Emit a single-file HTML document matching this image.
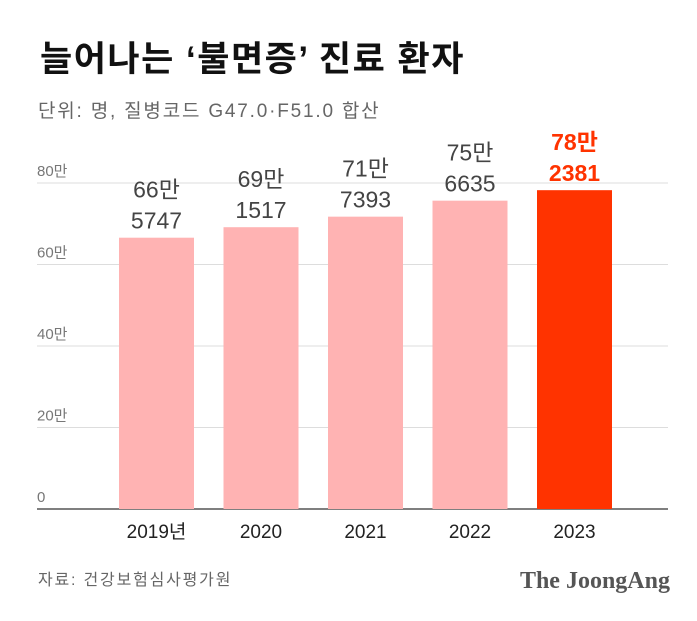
<!DOCTYPE html>
<html><head><meta charset="utf-8"><style>
body{margin:0;background:#fff;width:697px;height:616px;overflow:hidden;font-family:"Liberation Sans","Noto Sans CJK KR",sans-serif}
</style></head><body>
<svg width="697" height="616" xmlns="http://www.w3.org/2000/svg">
<text x="40" y="71" font-size="35" font-weight="bold" letter-spacing="1.5" fill="#111" font-family="Liberation Sans, Noto Sans CJK KR, sans-serif">늘어나는 ‘불면증’ 진료 환자</text>
<text x="38" y="117" font-size="19" letter-spacing="1.8" fill="#666" font-family="Liberation Sans, Noto Sans CJK KR, sans-serif">단위: 명, 질병코드 G47.0·F51.0 합산</text>
<g id="grid"></g><g id="bars"></g>
<text x="38" y="585" font-size="16" letter-spacing="1.8" fill="#666" font-family="Liberation Sans, Noto Sans CJK KR, sans-serif">자료: 건강보험심사평가원</text>
<text x="670" y="588" text-anchor="end" font-size="24" font-weight="bold" fill="#555" font-family="Liberation Serif, serif">The JoongAng</text>
</svg>
<script>
const categories=["2019년","2020","2021","2022","2023"];
const values=[665747,691517,717393,756635,782381];
const topLabels=["66만","69만","71만","75만","78만"];
const bottomLabels=["5747","1517","7393","6635","2381"];
const ticks=[0,200000,400000,600000,800000];
const tickLabels=["0","20만","40만","60만","80만"];
const NS="http://www.w3.org/2000/svg";
const y=v=>509-v/800000*326;
const x=i=>119+i*104.5;
const bw=75;
function mk(t,a,p){const e=document.createElementNS(NS,t);for(const k in a)e.setAttribute(k,a[k]);p.appendChild(e);return e;}
const g=document.getElementById('grid'),b=document.getElementById('bars');
ticks.forEach((t,i)=>{
 const l=mk('line',{x1:37,x2:668,y1:y(t),y2:y(t),stroke:i==0?'#333':'#ddd','stroke-width':i==0?1.2:1},g);
 
 
 const tx=mk('text',{x:37,y:y(t)-7,'font-size':15,fill:'#777'},g);
 tx.textContent=tickLabels[i];
 
 
});
values.forEach((v,i)=>{
 const last=i==values.length-1;
 const r=mk('rect',{x:x(i),y:y(v),width:bw,height:509-y(v),fill:last?'#ff3300':'#ffb3b3'},b);
 
 
 const col=last?'#ff3300':'#444',fw=last?'bold':'normal';
 const t1=mk('text',{x:x(i)+bw/2,y:y(v)-40,'text-anchor':'middle','font-size':23,fill:col,'font-weight':fw},b);
 t1.textContent=topLabels[i];
 
 
 const t2=mk('text',{x:x(i)+bw/2,y:y(v)-9,'text-anchor':'middle','font-size':23,fill:col,'font-weight':fw},b);
 t2.textContent=bottomLabels[i];
 
 
 const c=mk('text',{x:x(i)+bw/2,y:538,'text-anchor':'middle','font-size':19,fill:'#222'},b);
 c.textContent=categories[i];
 
 
});
</script>
</body></html>
